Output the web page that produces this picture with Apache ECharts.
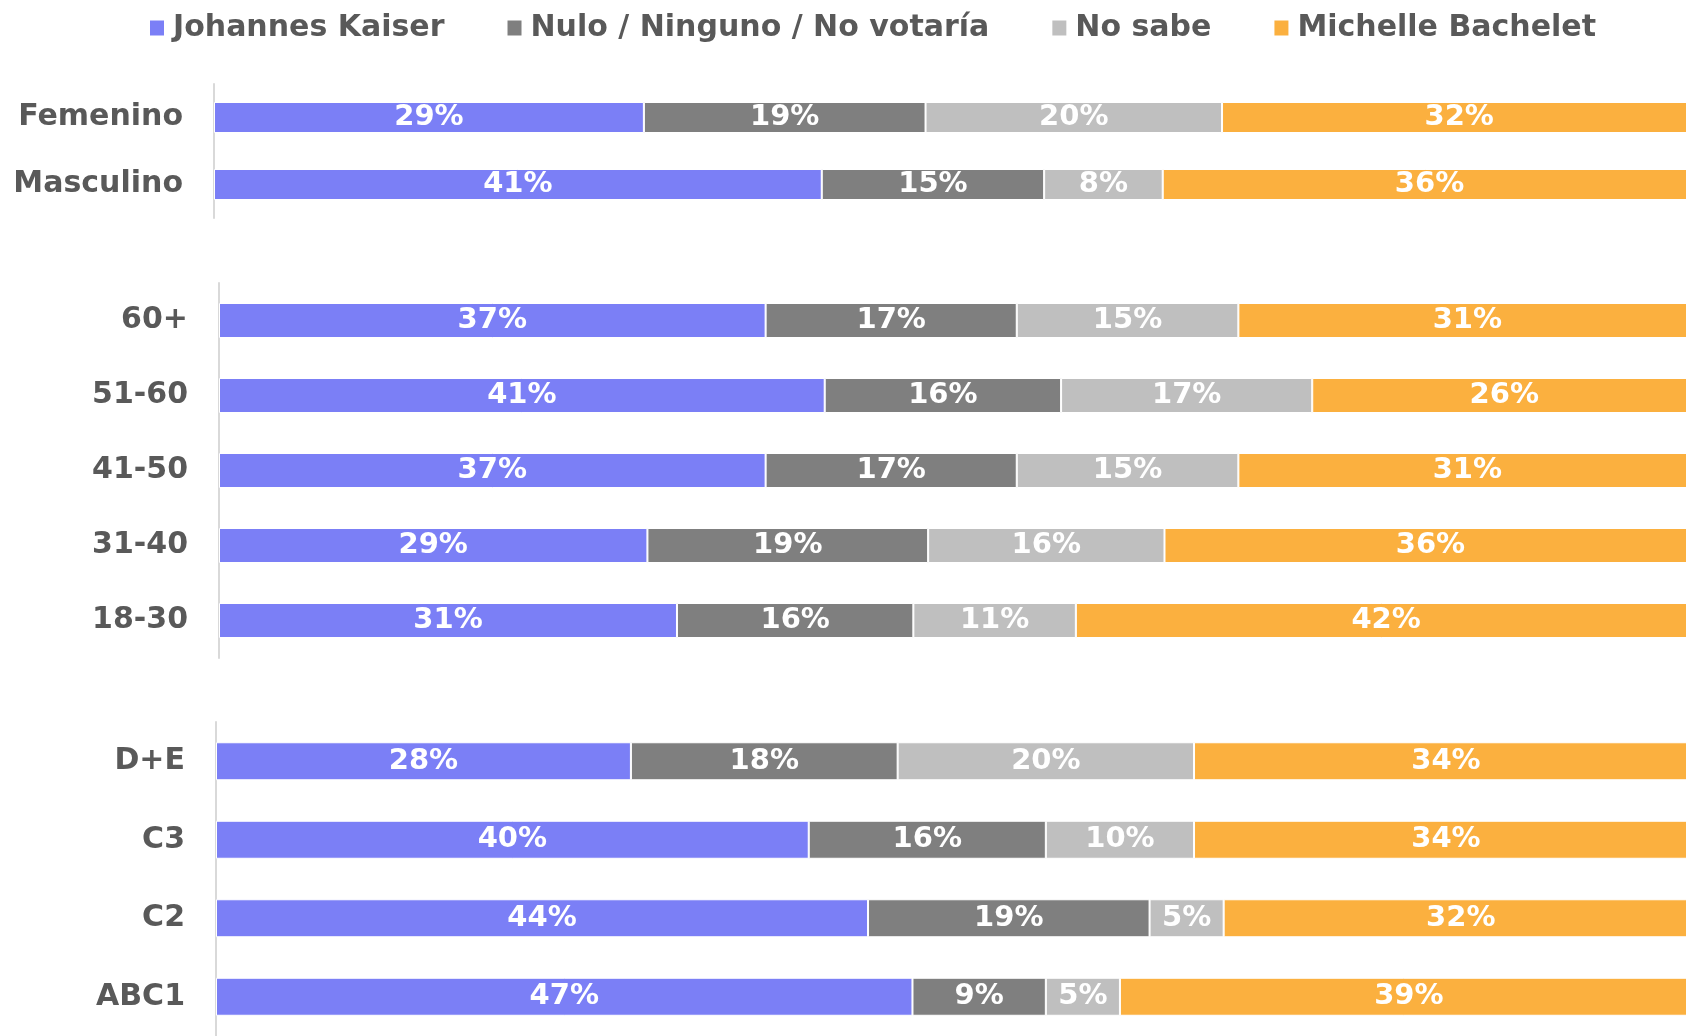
<!DOCTYPE html>
<html>
<head>
<meta charset="utf-8">
<script src="https://cdn.jsdelivr.net/npm/echarts@6/dist/echarts.min.js"></script>
<style>
  html, body { margin: 0; padding: 0; background: #fff; }
  #chart { width: 1686px; height: 1036px; }
</style>
</head>
<body>
<div id="chart"></div>
<script>
const seriesNames = ['Johannes Kaiser', 'Nulo / Ninguno / No votaría', 'No sabe', 'Michelle Bachelet'];
const seriesColors = ['#7b7ff6', '#7f7f7f', '#bfbfbf', '#fbb03f'];

const genderCats = ['Femenino', 'Masculino'];
const kaiserGender = [29, 41];
const nuloGender = [19, 15];
const noSabeGender = [20, 8];
const bacheletGender = [32, 36];

const ageCats = ['60+', '51-60', '41-50', '31-40', '18-30'];
const kaiserAge = [37, 41, 37, 29, 31];
const nuloAge = [17, 16, 17, 19, 16];
const noSabeAge = [15, 17, 15, 16, 11];
const bacheletAge = [31, 26, 31, 36, 42];

const gseCats = ['D+E', 'C3', 'C2', 'ABC1'];
const kaiserGse = [28, 40, 44, 47];
const nuloGse = [18, 16, 19, 9];
const noSabeGse = [20, 10, 5, 5];
const bacheletGse = [34, 34, 32, 39];

const groups = [
  { cats: genderCats, values: [kaiserGender, nuloGender, noSabeGender, bacheletGender] },
  { cats: ageCats, values: [kaiserAge, nuloAge, noSabeAge, bacheletAge] },
  { cats: gseCats, values: [kaiserGse, nuloGse, noSabeGse, bacheletGse] }
];

// layout of the three blocks; the 100% end sits a little past the right edge
const grids = [
  { left: 214, top: 84, right: 0, height: 134 },
  { left: 219, top: 283, right: 0, height: 375 },
  { left: 216, top: 722, right: 0, height: 320 }
];
const axisMax = [99.3, 99.3, 99.2];
const barWidths = [31, 35, 38];

const chart = echarts.init(document.getElementById('chart'));

const xAxes = [];
const yAxes = [];
const series = [];

groups.forEach((g, gi) => {
  xAxes.push({ type: 'value', gridIndex: gi, min: 0, max: axisMax[gi], show: false });
  yAxes.push({
    type: 'category',
    gridIndex: gi,
    data: g.cats,
    inverse: true,
    axisLine: { show: true, lineStyle: { color: '#d9d9d9', width: 2 } },
    axisTick: { show: false },
    splitLine: { show: false },
    axisLabel: { margin: 31, color: '#595959', fontSize: 30, fontWeight: 'bold', fontFamily: 'DejaVu Sans' }
  });
  g.values.forEach((vals, si) => {
    series.push({
      name: seriesNames[si],
      type: 'bar',
      stack: 'group' + gi,
      xAxisIndex: gi,
      yAxisIndex: gi,
      barWidth: barWidths[gi],
      clip: false,
      data: vals,
      itemStyle: { color: seriesColors[si], borderColor: '#fff', borderWidth: 1 },
      label: {
        show: true,
        position: 'inside',
        formatter: '{c}%',
        color: '#fff',
        fontSize: 29,
        fontWeight: 'bold',
        fontFamily: 'DejaVu Sans'
      }
    });
  });
});

chart.setOption({
  animation: false,
  backgroundColor: '#fff',
  textStyle: { fontFamily: 'DejaVu Sans' },
  legend: {
    data: seriesNames,
    left: 145,
    top: 8,
    icon: 'rect',
    itemWidth: 14,
    itemHeight: 15,
    itemGap: 63,
    itemStyle: { borderWidth: 0 },
    textStyle: { color: '#595959', fontSize: 30, fontWeight: 'bold', fontFamily: 'DejaVu Sans', padding: [0, 0, 0, 4] }
  },
  grid: grids,
  xAxis: xAxes,
  yAxis: yAxes,
  series: series
});
</script>
</body>
</html>
